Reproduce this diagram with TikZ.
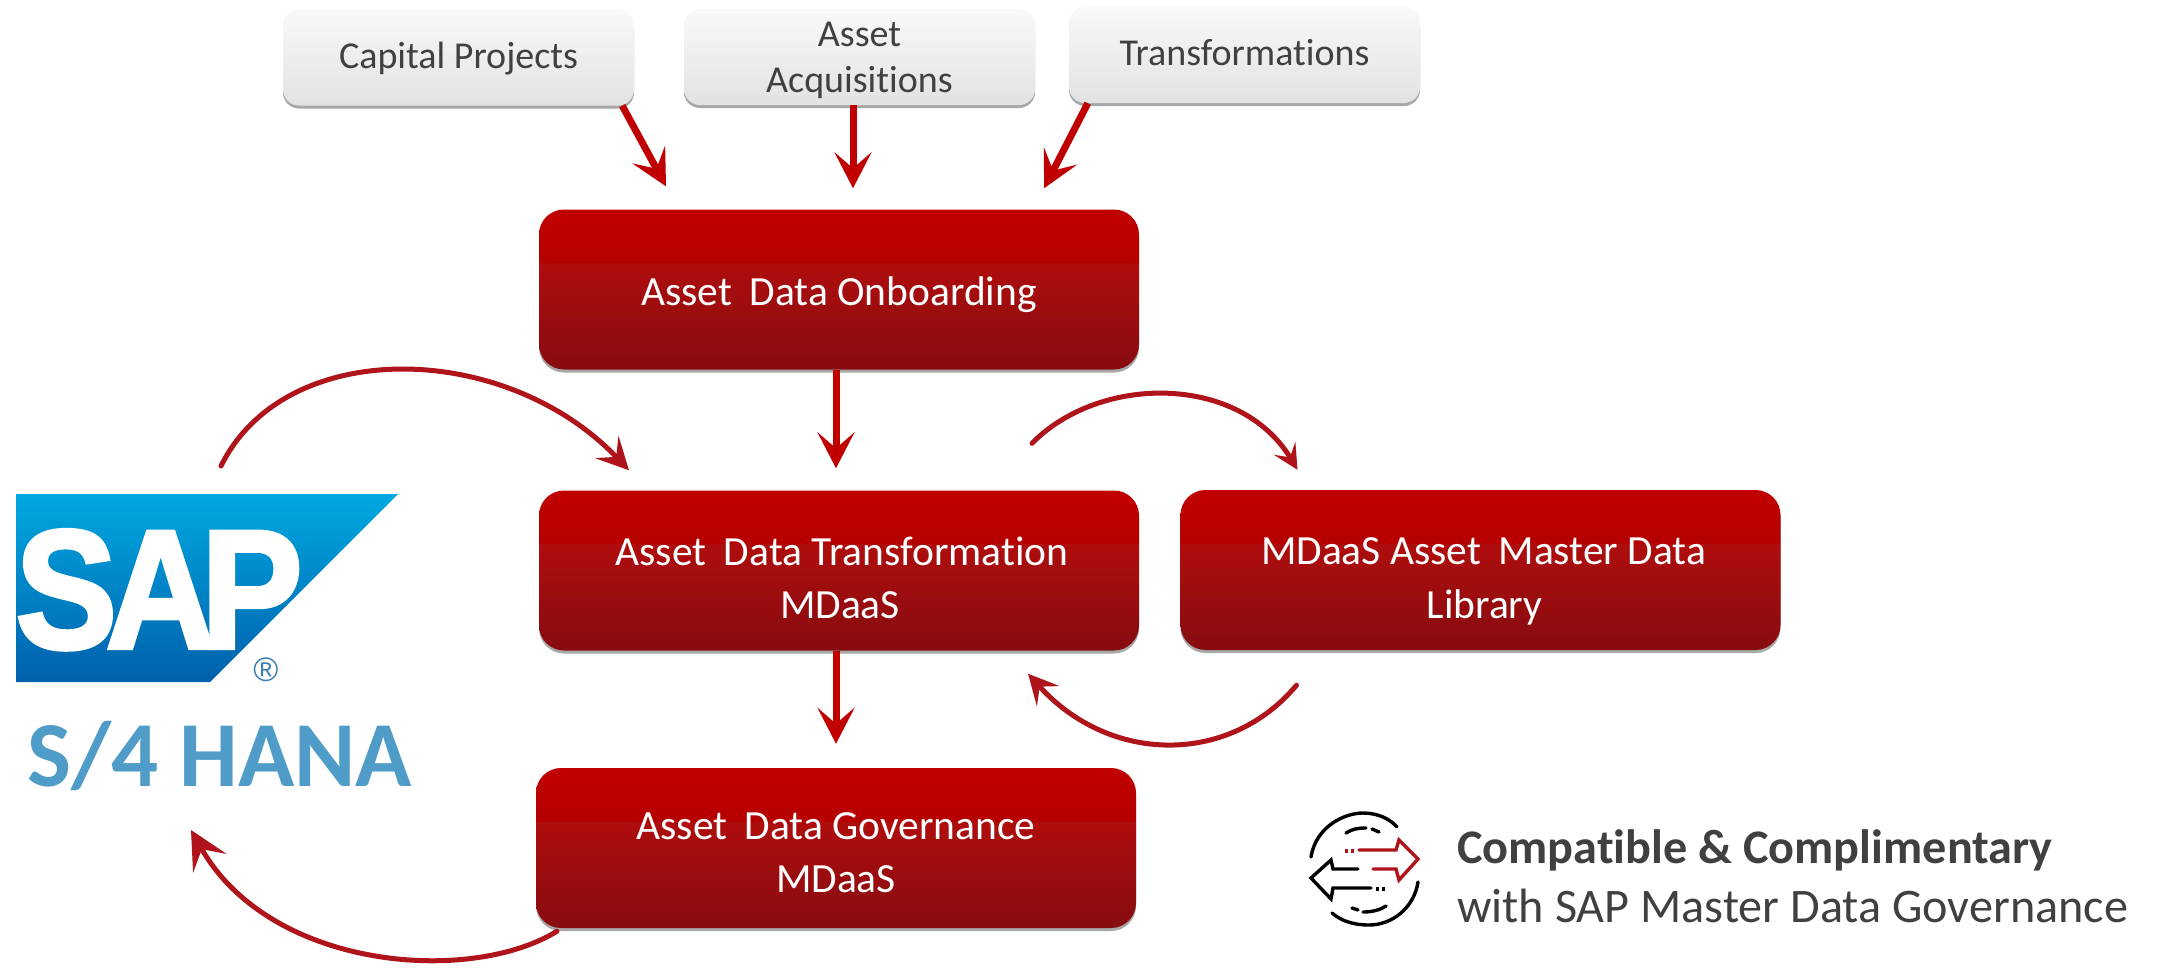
\documentclass[tikz,border=0pt]{standalone}
\usepackage{fontspec}
\setmainfont{Carlito}[Ligatures=NoCommon]
\newfontfamily\sapf[FakeBold=2.5]{Liberation Sans Bold}
\newfontfamily\regf{Liberation Sans}
\usetikzlibrary{arrows.meta,shadows}
\definecolor{arrowred}{HTML}{C00000}
\definecolor{curvered}{HTML}{AE1419}
\definecolor{greytext}{HTML}{404040}
\definecolor{rb0}{HTML}{860C10}
\definecolor{rb1}{HTML}{AF0D0D}
\definecolor{rb2}{HTML}{B50000}
\definecolor{rb3}{HTML}{C00000}
\definecolor{gb0}{HTML}{E2E2E2}
\definecolor{gb1}{HTML}{F9F9F9}
\definecolor{sb0}{HTML}{0060AC}
\definecolor{sb1}{HTML}{00A8E1}
\definecolor{hanablue}{HTML}{4F9CC9}
\definecolor{regblue}{HTML}{3A7FB0}
\pgfdeclareverticalshading{redband}{100bp}{color(0bp)=(rb0);color(25bp)=(rb0);color(58.3bp)=(rb1);color(58.4bp)=(rb2);color(75bp)=(rb3);color(100bp)=(rb3)}
\pgfdeclareverticalshading{greyband}{100bp}{color(0bp)=(gb0);color(25bp)=(gb0);color(75bp)=(gb1);color(100bp)=(gb1)}
\pgfdeclareverticalshading{sapband}{100bp}{color(0bp)=(sb0);color(25bp)=(sb0);color(75bp)=(sb1);color(100bp)=(sb1)}
\tikzset{
  softlayer/.style args={#1/#2/#3}{general shadow={shadow xshift=0pt,shadow yshift=-3pt,xscale=#1,yscale=#2,opacity=#3,fill=black}},
  redshadow/.style={softlayer=1.0167/1.0625/.05,softlayer=1.012/1.045/.07,softlayer=1.0067/1.025/.1,softlayer=1.002/1.008/.16},
  greyshadow/.style={softlayer=1.0285/1.104/.05,softlayer=1.02/1.073/.07,softlayer=1.0114/1.042/.1,softlayer=1.003/1.012/.16},
  rednode/.style={rectangle,rounded corners=25pt,minimum width=600pt,minimum height=160pt,inner sep=0pt,
    redshadow,shading=redband,text=white,align=center,font=\fontsize{41.5pt}{53.5pt}\selectfont},
  greynode/.style={rectangle,rounded corners=16pt,minimum width=351pt,minimum height=96pt,inner sep=0pt,
    greyshadow,shading=greyband,text=greytext,align=center,font=\fontsize{38pt}{46pt}\selectfont},
  straightarrow/.style={draw=arrowred,line width=7pt,-{Stealth[length=36pt,width=37pt,inset=16pt]}},
  curvedarrow/.style={draw=curvered,line width=5pt,line cap=round,-{Stealth[length=#1pt,width'=0pt 1,inset'=0pt .42]}},
  iconblack/.style={draw=black,line width=3.4pt,line cap=round},
  iconred/.style={draw=curvered,line width=3.4pt,line cap=round},
  captiontext/.style={inner sep=0pt,anchor=base west,text=greytext,font=\fontsize{48.2pt}{54pt}\selectfont},
}
\newcommand{\wgap}{\hspace{.42em}}
\newcommand{\lineup}[1]{\rule{0pt}{#1pt}}
\newcommand{\linedown}[1]{\rule[-#1pt]{0pt}{#1pt}}
\begin{document}
\begin{tikzpicture}[x=1pt,y=-1pt]
\useasboundingbox (0,0) rectangle (2157,967);
\fill[white] (0,0) rectangle (2157,967);

% source boxes
\node[greynode] (capital) at (458.5,57.5) {\lineup{31}\linedown{10}Capital Projects};
\node[greynode] (acq) at (859.5,57) {\lineup{35}Asset\\\linedown{10}Acquisitions};
\node[greynode] (trans) at (1244.5,55) {\lineup{30}\linedown{10}Transformations};

% main boxes
\node[rednode] (onboard) at (839,289.5) {\lineup{44}\linedown{12}Asset\wgap Data Onboarding};
\node[rednode] (mdaas) at (839,570.5) {\lineup{55}\hspace*{6pt}Asset\wgap Data Transformation\\\linedown{12}\hspace*{2pt}MDaaS};
\node[rednode] (library) at (1480.5,570) {\lineup{55}\hspace*{6pt}MDaaS Asset\wgap Master Data\\\linedown{12}\hspace*{8pt}Library};
\node[rednode] (gov) at (836,848) {\lineup{48}Asset\wgap Data Governance\\\linedown{12}MDaaS};

% SAP logo
\shade[shading=sapband] (16.5,494) -- (398,494) -- (210,682) -- (16.5,682) -- cycle;
\node[inner sep=0pt,anchor=base,text=white,xscale=.9] (sapword) at (159,648)
  {\sapf\fontsize{169pt}{169pt}\selectfont S\kern-.075em A\kern-.095em P};
\node[inner sep=0pt,text=regblue] (regmark) at (266,670) {\regf\fontsize{34pt}{34pt}\selectfont ®};
\node[inner sep=0pt,anchor=base west,text=hanablue] (hana) at (27,786)
  {\fontsize{93pt}{93pt}\selectfont\bfseries S/4 HANA};

% free ends
\coordinate (hanaout) at (221,466);
\coordinate (hanain) at (191,830);

% straight connectors
\draw[straightarrow] ([xshift=-12pt]capital.south east) -- ([xshift=-173pt,yshift=23pt]onboard.north);
\draw[straightarrow] ([xshift=-6.5pt]acq.south) -- ([xshift=14pt,yshift=21pt]onboard.north);
\draw[straightarrow] ([xshift=19pt]trans.south west) -- ([xshift=205pt,yshift=21pt]onboard.north);
\draw[straightarrow] ([xshift=-3pt]onboard.south) -- ([xshift=-3pt,yshift=22pt]mdaas.north);
\draw[straightarrow] ([xshift=-3pt]mdaas.south) -- ([yshift=24pt]gov.north);

% curved connectors
\draw[curvedarrow=32] (hanaout) .. controls (285,336) and (505,340) .. ([xshift=-210pt,yshift=20pt]mdaas.north);
\draw[curvedarrow=25] ([xshift=193pt,yshift=47pt]mdaas.north) .. controls (1100,374) and (1240,374) .. ([xshift=-183pt,yshift=20pt]library.north);
\draw[curvedarrow=30] ([xshift=-184pt,yshift=-35pt]library.south) .. controls (1230,765) and (1110,765) .. ([xshift=189pt,yshift=-23pt]mdaas.south);
\draw[curvedarrow=38] ([xshift=-279pt,yshift=-3pt]gov.south) .. controls (470,985) and (270,970) .. (hanain);

% icon
\draw[iconblack] (1311,857) .. controls (1316,826) and (1345,813) .. (1363,813) .. controls (1378,813) and (1390,819) .. (1397,827);
\draw[iconblack] (1418,882) .. controls (1414,908) and (1392,925) .. (1369,925) .. controls (1352,925) and (1340,920) .. (1332,913);
\draw[iconblack] (1346,833) .. controls (1352,829) and (1358,828) .. (1366,828);
\draw[iconblack] (1372,829) -- (1379,832);
\draw[iconblack] (1386,906) .. controls (1380,910) and (1372,912) .. (1363,912);
\draw[iconblack] (1358,910) -- (1352,908);
\draw[iconred] (1359,850) -- (1396,850) -- (1399,840) -- (1418,859) -- (1399,880) -- (1396,869) -- (1373,869);
\draw[iconred,dash pattern=on 3pt off 3pt,line cap=butt] (1345,851) -- (1355,851);
\draw[iconblack] (1358,869) -- (1333,869) -- (1331,860) -- (1311,878) -- (1331,899) -- (1333,888) -- (1371,888);
\draw[iconblack,dash pattern=on 3pt off 3pt,line cap=butt] (1376,889) -- (1386,889);

% caption
\node[captiontext] (capa) at (1457,863) {\bfseries Compatible \& Complimentary};
\node[captiontext] (capb) at (1457,922) {with SAP Master Data Governance};
\end{tikzpicture}
\end{document}
